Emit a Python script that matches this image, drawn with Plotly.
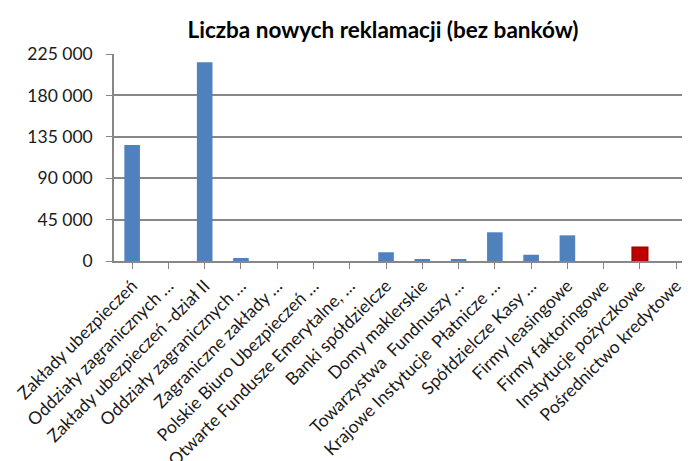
import plotly.graph_objects as go

categories = [
    "Zakłady ubezpieczeń",
    "Oddziały zagranicznych …",
    "Zakłady ubezpieczeń -dział II",
    "Oddziały zagranicznych …",
    "Zagraniczne zakłady …",
    "Polskie Biuro Ubezpieczeń …",
    "Otwarte Fundusze Emerytalne, …",
    "Banki spółdzielcze",
    "Domy maklerskie",
    "Towarzystwa  Fundnuszy …",
    "Krajowe Instytucje  Płatnicze …",
    "Spółdzielcze Kasy …",
    "Firmy leasingowe",
    "Firmy faktoringowe",
    "Instytucje pożyczkowe",
    "Pośrednictwo kredytowe",
]
values = [126000, 0, 216000, 3300, 0, 0, 0, 9500, 1400, 1400,
          31200, 6800, 27900, 0, 14900, 0]
highlight = "Instytucje pożyczkowe"
y_ticks = [0, 45000, 90000, 135000, 180000, 225000]

colors = ["#C00000" if c == highlight else "#4F81BD" for c in categories]
line_colors = ["#A00000" if c == highlight else "#4F81BD" for c in categories]
line_widths = [1.5 if c == highlight else 0 for c in categories]

idx = list(range(len(categories)))

fig = go.Figure(go.Bar(
    x=idx, y=values,
    marker=dict(color=colors, line=dict(color=line_colors, width=line_widths)),
))

# the page body adds an 8 px margin, so the figure is sized to fill the rest
W, H = 682, 453
font_family = "Lato, 'Open Sans', sans-serif"
fig.update_layout(
    width=W, height=H,
    margin=dict(l=106, r=0, t=46, b=200),
    paper_bgcolor="white", plot_bgcolor="white",
    separators=", ",
    bargap=0.57,
    showlegend=False,
    title=dict(text="<b>Liczba nowych reklamacji (bez banków)</b>",
               x=375 / W, xref="container", xanchor="center",
               y=1 - 22 / H, yref="container", yanchor="middle",
               font=dict(family=font_family, size=22.5, color="#000000")),
    font=dict(family=font_family, color="#1a1a1a"),
)
fig.update_xaxes(
    tickmode="array", tickvals=idx, ticktext=categories,
    range=[-0.5, 15.38], tickangle=-45, automargin=False,
    tickfont=dict(size=17.5, color="#1a1a1a"),
    showgrid=False, showline=True, linecolor="#878787", linewidth=1.5,
    ticks="outside", tickson="boundaries", ticklen=6, tickcolor="#878787",
    zeroline=False,
)
fig.update_yaxes(
    range=[0, 225000], tickmode="array", tickvals=y_ticks, automargin=False,
    tickformat=",d", tickfont=dict(size=17.5, color="#1a1a1a"),
    showgrid=True, gridcolor="#878787", gridwidth=1.5,
    showline=True, linecolor="#878787", linewidth=1.5,
    ticks="outside", ticklen=6, tickcolor="#878787",
    zeroline=False, ticklabelstandoff=10,
)
fig.write_html("out.html")
